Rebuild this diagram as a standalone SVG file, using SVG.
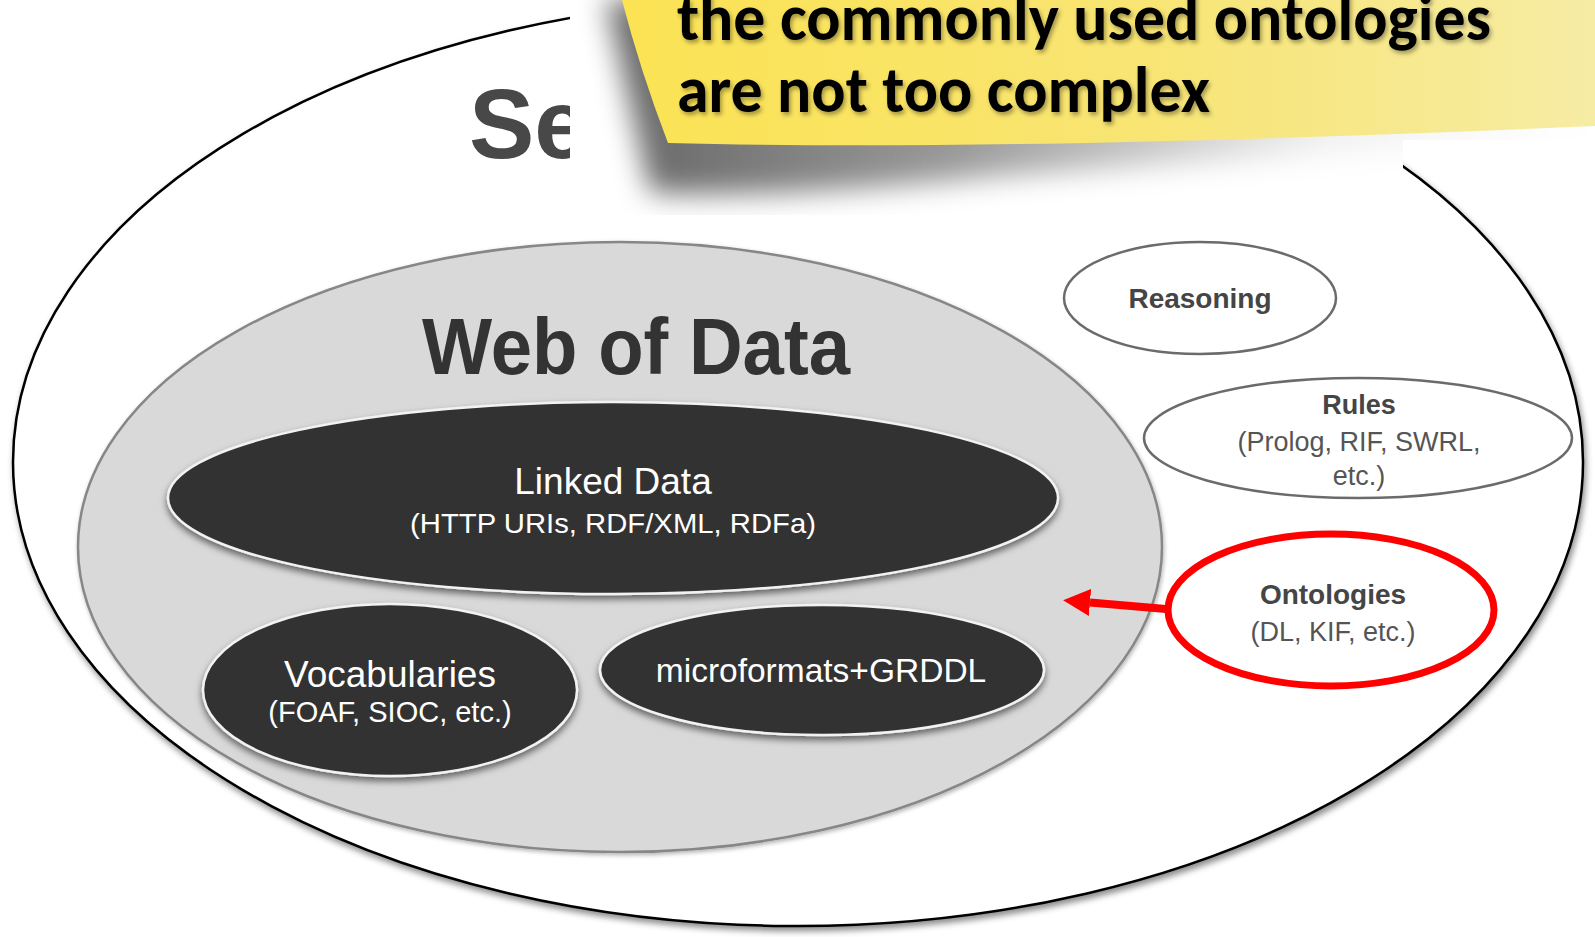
<svg xmlns="http://www.w3.org/2000/svg" width="1595" height="937" viewBox="0 0 1595 937">
<style>
.sans{font-family:"Liberation Sans",Arial,Helvetica,sans-serif}
.big{font-weight:bold;fill:#333}
.dark{fill:#323232;stroke:#f2f2f2;stroke-width:2.5}
.wt{fill:#fff;text-anchor:middle}
.small{fill:#fff;stroke:#6b6b6b;stroke-width:2.5}
.lb{font-weight:bold;fill:#454545;text-anchor:middle}
.lr{fill:#555;text-anchor:middle}
.note{font-family:Carlito,Calibri,Lato,"Open Sans",sans-serif;font-weight:bold;font-size:64px;fill:#000}
</style>
<defs>
<filter id="shOuter" x="-5%" y="-5%" width="110%" height="115%">
<feDropShadow dx="2" dy="4" stdDeviation="3" flood-color="#000" flood-opacity="0.45"/>
</filter>
<filter id="shDark" x="-10%" y="-10%" width="120%" height="130%">
<feDropShadow dx="0" dy="4" stdDeviation="3.5" flood-color="#000" flood-opacity="0.55"/>
</filter>
<filter id="shGrey" x="-5%" y="-5%" width="110%" height="115%">
<feDropShadow dx="1" dy="2" stdDeviation="2" flood-color="#000" flood-opacity="0.3"/>
</filter>
<filter id="blurSh" x="-20%" y="-20%" width="140%" height="160%">
<feGaussianBlur stdDeviation="14"/>
</filter>
<filter id="txtSh" x="-5%" y="-20%" width="110%" height="150%">
<feDropShadow dx="2" dy="3" stdDeviation="2" flood-color="#000" flood-opacity="0.35"/>
</filter>
<linearGradient id="yellow" x1="0" y1="0" x2="1" y2="0">
<stop offset="0" stop-color="#fbe353"/>
<stop offset="0.55" stop-color="#f8e574"/>
<stop offset="1" stop-color="#f6eca4"/>
</linearGradient>
<linearGradient id="shFade" x1="0" y1="0" x2="1" y2="0">
<stop offset="0" stop-color="#000" stop-opacity="0.6"/>
<stop offset="0.35" stop-color="#000" stop-opacity="0.4"/>
<stop offset="0.72" stop-color="#000" stop-opacity="0.06"/>
<stop offset="1" stop-color="#000" stop-opacity="0"/>
</linearGradient>
<clipPath id="noteClip">
<rect x="570" y="0" width="833" height="215"/>
<rect x="1403" y="0" width="192" height="140"/>
</clipPath>
<marker id="redHead" viewBox="0 -14 28 28" markerWidth="28" markerHeight="28" refX="0" refY="0" orient="auto" markerUnits="userSpaceOnUse">
<path d="M0,-13.5 L27,0 L0,13.5 Z" fill="#ff0000"/>
</marker>
</defs>

<rect width="1595" height="937" fill="#fff"/>

<g id="semantic-web">
<ellipse cx="798" cy="462" rx="785" ry="464" fill="#fff" stroke="#000" stroke-width="2.5" filter="url(#shOuter)"/>
<text class="sans big" x="469" y="158" font-size="98" style="fill:#484848">Se</text>
</g>

<g id="web-of-data">
<ellipse cx="620" cy="547" rx="542" ry="305" fill="#d9d9d9" stroke="#878787" stroke-width="2.5" filter="url(#shGrey)"/>
<text class="sans big" x="636" y="374" font-size="80" text-anchor="middle" textLength="428" lengthAdjust="spacingAndGlyphs">Web of Data</text>
</g>

<g id="linked-data">
<ellipse class="dark" cx="613" cy="498" rx="445" ry="96" filter="url(#shDark)"/>
<text class="sans wt" x="613" y="494" font-size="37">Linked Data</text>
<text class="sans wt" x="613" y="533" font-size="28" textLength="406" lengthAdjust="spacingAndGlyphs">(HTTP URIs, RDF/XML, RDFa)</text>
</g>

<g id="vocabularies">
<ellipse class="dark" cx="390" cy="690" rx="187" ry="86" filter="url(#shDark)"/>
<text class="sans wt" x="390" y="687" font-size="37">Vocabularies</text>
<text class="sans wt" x="390" y="722" font-size="29">(FOAF, SIOC, etc.)</text>
</g>

<g id="microformats">
<ellipse class="dark" cx="822" cy="670" rx="222" ry="65" filter="url(#shDark)"/>
<text class="sans wt" x="821" y="682" font-size="33.5">microformats+GRDDL</text>
</g>

<g id="reasoning">
<ellipse class="small" cx="1200" cy="298" rx="136" ry="56"/>
<text class="sans lb" x="1200" y="308" font-size="28">Reasoning</text>
</g>

<g id="rules">
<ellipse class="small" cx="1358" cy="438" rx="214" ry="60"/>
<text class="sans lb" x="1359" y="414" font-size="27">Rules</text>
<text class="sans lr" x="1359" y="451" font-size="27">(Prolog, RIF, SWRL,</text>
<text class="sans lr" x="1359" y="485" font-size="27">etc.)</text>
</g>

<g id="ontologies">
<ellipse cx="1331" cy="610" rx="163" ry="76" fill="#fff" stroke="#ff0000" stroke-width="7"/>
<text class="sans lb" x="1333" y="604" font-size="28">Ontologies</text>
<text class="sans lr" x="1333" y="641" font-size="27">(DL, KIF, etc.)</text>
</g>

<g id="connectors">
<line x1="1166" y1="609" x2="1090" y2="602.5" stroke="#ff0000" stroke-width="8" marker-end="url(#redHead)"/>
</g>

<g id="sticky-note">
<g clip-path="url(#noteClip)">
<rect x="570" y="0" width="1025" height="215" fill="#fff"/>
<path d="M606,0 L650,192 Q760,200 1000,176 Q1250,158 1595,136 L1595,0 Z" fill="url(#shFade)" filter="url(#blurSh)"/>
</g>
<path d="M622,0 Q640,70 668,143 Q1000,152 1595,126 L1595,0 Z" fill="url(#yellow)"/>
<g filter="url(#txtSh)">
<text class="note" x="677" y="40" textLength="814" lengthAdjust="spacingAndGlyphs">the commonly used ontologies</text>
<text class="note" x="677" y="112" textLength="533" lengthAdjust="spacingAndGlyphs">are not too complex</text>
</g>
</g>
</svg>
